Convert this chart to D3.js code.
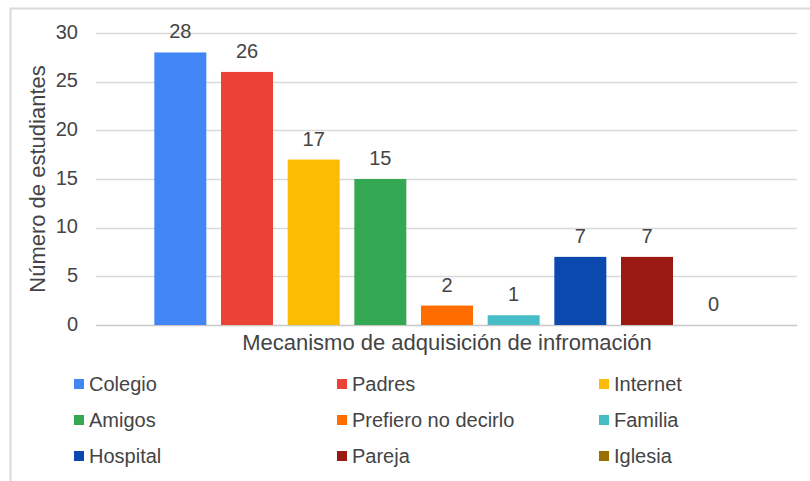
<!DOCTYPE html>
<html>
<head>
<meta charset="utf-8">
<script src="https://cdn.jsdelivr.net/npm/d3@7"></script>
<style>
  body { margin: 0; background: #fff; }
  text { font-family: "Liberation Sans", Arial, sans-serif; fill: #444; }
</style>
</head>
<body>
<script>
const categories = ["Colegio", "Padres", "Internet", "Amigos", "Prefiero no decirlo", "Familia", "Hospital", "Pareja", "Iglesia"];
const values = [28, 26, 17, 15, 2, 1, 7, 7, 0];
const colors = ["#4285f4", "#ea4335", "#fbbc04", "#34a853", "#ff6d01", "#46bdc6", "#0b49ae", "#9a1a12", "#9a7100"];
const yTicks = [0, 5, 10, 15, 20, 25, 30];

const width = 810, height = 481;

let svg = d3.select("body").append("svg")
  .attr("width", width)
  .attr("height", height);

// outer frame (only top and left edges show in the picture)
svg.append("path")
  .attr("d", "M10.5,481 V8.5 H810")
  .attr("fill", "none")
  .attr("stroke", "#d9d9d9")
  .attr("stroke-width", 2);

let y = d3.scaleLinear().domain([0, 30]).range([325, 33]);
let x = d3.scaleBand().domain(categories).range([147, 747]).paddingInner(0.22).paddingOuter(0.11);

// gridlines
svg.append("g")
  .selectAll("line")
  .data(yTicks)
  .join("line")
  .attr("x1", 96).attr("x2", 797)
  .attr("y1", d => Math.round(y(d)) + 0.5)
  .attr("y2", d => Math.round(y(d)) + 0.5)
  .attr("stroke", d => d === 0 ? "#c8c8c8" : "#d9d9d9")
  .attr("stroke-width", 1.5);

let yAxis = svg.append("g")
  .attr("transform", "translate(78,0)")
  .call(d3.axisLeft(y).tickValues(yTicks).tickSize(0).tickPadding(0));
yAxis.select(".domain").remove();
yAxis.selectAll("text")
  .attr("font-size", 20)
  .attr("dy", "0.25em")
  .style("font-family", "'Liberation Sans', Arial, sans-serif")
  .attr("fill", "#444");

// bars
svg.append("g")
  .selectAll("rect")
  .data(categories)
  .join("rect")
  .attr("x", d => x(d))
  .attr("width", x.bandwidth())
  .attr("y", (d, i) => y(values[i]))
  .attr("height", (d, i) => y(0) - y(values[i]))
  .attr("fill", (d, i) => colors[i]);

// value labels
svg.append("g")
  .selectAll("text")
  .data(categories)
  .join("text")
  .attr("x", d => x(d) + x.bandwidth() / 2)
  .attr("y", (d, i) => y(values[i]) - 14)
  .attr("text-anchor", "middle")
  .attr("font-size", 20)
  .text((d, i) => values[i]);

// axis titles
svg.append("text")
  .attr("x", 447)
  .attr("y", 350)
  .attr("text-anchor", "middle")
  .attr("font-size", 22)
  .text("Mecanismo de adquisición de infromación");

svg.append("text")
  .attr("transform", "translate(45,179) rotate(-90)")
  .attr("text-anchor", "middle")
  .attr("font-size", 22)
  .text("Número de estudiantes");

// legend, three columns
const colX = [74, 337, 599];
const rowY = [384, 420, 456];
let legend = svg.append("g")
  .selectAll("g")
  .data(categories)
  .join("g")
  .attr("transform", (d, i) => "translate(" + colX[i % 3] + "," + rowY[Math.floor(i / 3)] + ")");

legend.append("rect")
  .attr("x", 0).attr("y", -5)
  .attr("width", 10).attr("height", 10)
  .attr("fill", (d, i) => colors[i]);

legend.append("text")
  .attr("x", 15)
  .attr("y", 7)
  .attr("font-size", 20)
  .text(d => d);
</script>
</body>
</html>
